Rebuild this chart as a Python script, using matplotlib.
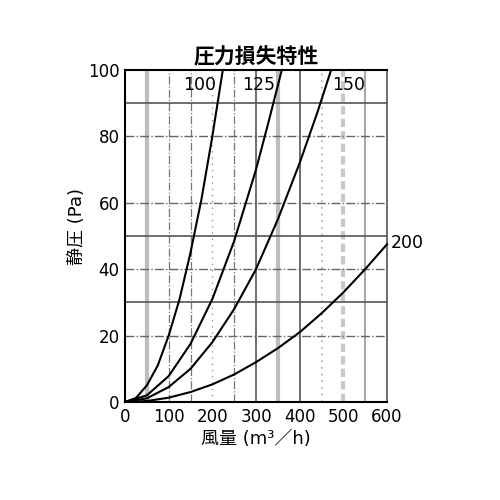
import matplotlib
matplotlib.use('Agg')
import matplotlib.pyplot as plt

plt.rcParams['font.family'] = ['DejaVu Sans', 'Noto Sans CJK JP']

# curves (air flow m3/h -> static pressure Pa)
x100 = [0, 25, 50, 75, 100, 125, 150, 175, 200, 224]
y100 = [0, 1.2, 5, 11, 20, 31, 45, 61, 80, 100]
x125 = [0, 50, 100, 150, 200, 250, 300, 330, 359]
y125 = [0, 2, 7.8, 17.5, 31, 48.5, 70, 85, 100]
x150 = [0, 50, 100, 150, 200, 250, 300, 350, 400, 440, 472]
y150 = [0, 1.1, 4.5, 10, 18, 28, 40, 55, 72, 87, 100]
x200 = [0, 50, 100, 150, 200, 250, 300, 350, 400, 450, 500, 550, 600]
y200 = [0, 0.3, 1.3, 3, 5.3, 8.3, 12, 16.2, 21, 26.7, 33, 40, 47.5]

xticks = [0, 100, 200, 300, 400, 500, 600]
yticks = [0, 20, 40, 60, 80, 100]

fig = plt.figure(figsize=(5, 5), dpi=100)
ax = fig.add_axes([0.25, 0.196, 0.524, 0.664])

# grid, styled like the scanned original
for v in [50, 350]:
    ax.axvline(v, color='#bdbdbd', lw=3, zorder=1)
ax.axvline(500, color='#c8c8c8', lw=3, ls=(0, (2, 1)), zorder=1)
ax.axvline(550, color='#a8a8a8', lw=1.5, zorder=1)
for v in [100, 150, 250]:
    ax.axvline(v, color='#777777', lw=0.9, ls='-.', zorder=1)
ax.axvline(200, color='#888888', lw=0.9, ls=(0, (1, 4)), zorder=1)
ax.axvline(450, color='#aaaaaa', lw=1.2, ls=(0, (1, 3)), zorder=1)
for v in [300, 400]:
    ax.axvline(v, color='#555555', lw=1.2, zorder=1)
for h in [30, 50, 90]:
    ax.axhline(h, color='#555555', lw=1.2, zorder=1)
for h in [20, 40, 60, 80]:
    ax.axhline(h, color='#666666', lw=1.0, ls='-.', zorder=1)

ax.plot(x100, y100, color='black', lw=1.5, zorder=3)
ax.plot(x125, y125, color='black', lw=1.5, zorder=3)
ax.plot(x150, y150, color='black', lw=1.5, zorder=3)
ax.plot(x200, y200, color='black', lw=1.5, zorder=3, clip_on=False)

ax.text(172, 95.5, '100', ha='center', va='center', fontsize=12.5, zorder=4)
ax.text(307, 95.5, '125', ha='center', va='center', fontsize=12.5, zorder=4)
ax.text(513, 95.5, '150', ha='center', va='center', fontsize=12.5, zorder=4)
ax.text(609, 48, '200', ha='left', va='center', fontsize=12.5)

ax.set_xlim(0, 600)
ax.set_ylim(0, 100)
ax.set_xticks(xticks)
ax.set_yticks(yticks)
ax.tick_params(length=0, labelsize=12, pad=4)
for s in ax.spines.values():
    s.set_linewidth(1.5)
    s.set_color('black')
ax.spines['right'].set_color('#555555')
ax.spines['right'].set_linewidth(1.2)

ax.set_title('圧力損失特性', fontsize=15, pad=5, fontweight='bold')
ax.set_xlabel('風量 (m³／h)', fontsize=13, labelpad=3)
ax.set_ylabel('静圧 (Pa)', fontsize=13)
ax.yaxis.set_label_coords(-0.15, 0.53)

fig.savefig('out.png', dpi=100)
